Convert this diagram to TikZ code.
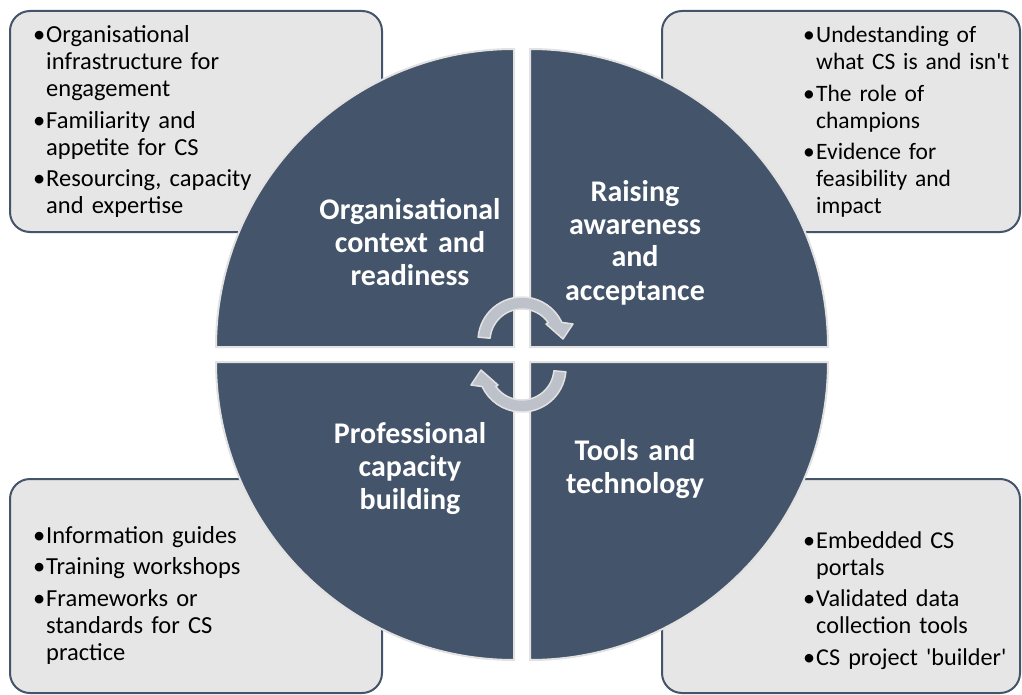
\documentclass[tikz,border=0pt]{standalone}
\usepackage{fontspec}
\setmainfont{Carlito}[Ligatures=TeXOff]
\definecolor{slate}{HTML}{44546A}
\definecolor{panel}{HTML}{E7E6E6}
\definecolor{ringarrow}{HTML}{BDC1C9}
\definecolor{rim}{HTML}{E2E2E2}
% one bullet paragraph with a hanging indent; \nl breaks a line inside it
\newcommand\bi[1]{\hangindent=13pt\hangafter=1\noindent\makebox[13pt][l]{•}#1\par}
\newcommand\nl{\newline}
\newcommand\gap{\vspace{4.5pt}}
\begin{document}
\begin{tikzpicture}[x=1pt,y=-1pt,
  panelbox/.style={draw=slate,fill=panel,line width=2pt,rounded corners=20pt},
  quadrant/.style={fill=slate,draw=rim,line width=2pt},
  cyclearrow/.style={fill=ringarrow,draw=rim,line width=1.5pt,line join=round},
  bul/.style={inner sep=0pt,text width=240pt,align=left,anchor=base west,
    font=\fontsize{24.5}{27}\selectfont},
  ttl/.style={inner sep=0pt,text width=300pt,align=center,anchor=base,text=white,
    font=\bfseries\fontsize{30}{33}\selectfont}]
\useasboundingbox (0,0) rectangle (1022,695);

% corner panels
\draw[panelbox] (10,11) rectangle (382,232);
\draw[panelbox] (662,11) rectangle (1020,232);
\draw[panelbox] (10,479) rectangle (382,693);
\draw[panelbox] (662,479) rectangle (1020,693);

% four quarter discs
\draw[quadrant] (514,347) -- (216,347) arc[start angle=180,end angle=270,radius=298] -- cycle;
\draw[quadrant] (530,347) -- (530,49) arc[start angle=270,end angle=360,radius=298] -- cycle;
\draw[quadrant] (530,362) -- (828,362) arc[start angle=0,end angle=90,radius=298] -- cycle;
\draw[quadrant] (514,362) -- (514,660) arc[start angle=90,end angle=180,radius=298] -- cycle;

% circular arrows in the middle (ring centred at 522,341; the second is turned half round)
\draw[cyclearrow] (478.17,337.17) arc[start angle=185,end angle=335,radius=44]
  -- (573,324) -- (563,339) -- (546,324)
  -- (548.21,322.65) arc[start angle=325,end angle=185,radius=32] -- cycle;
\begin{scope}[rotate around={180:(522,354.5)}]
\draw[cyclearrow] (478.17,337.17) arc[start angle=185,end angle=335,radius=44]
  -- (573,324) -- (563,339) -- (546,324)
  -- (548.21,322.65) arc[start angle=325,end angle=185,radius=32] -- cycle;
\end{scope}

% quadrant titles
\node[ttl] (q1) at (410,219) {Organisational\\context and\\readiness};
\node[ttl] (q2) at (635,201) {Raising\\awareness\\and\\acceptance};
\node[ttl] (q3) at (410,443) {Professional\\capacity\\building};
\node[ttl] (q4) at (635,460) {Tools and\\technology};

% panel lists
\node[bul] (l1) at (33,43) {\bi{Organisational\nl infrastructure for\nl engagement}\gap
  \bi{Familiarity and\nl appetite for CS}\gap\bi{Resourcing, capacity\nl and expertise}};
\node[bul,font=\fontsize{23.5}{27}\selectfont] (l2) at (803,43) {\bi{Undestanding of\nl what CS is and isn't}\gap
  \bi{The role of\nl champions}\gap\bi{Evidence for\nl feasibility and\nl impact}};
\node[bul] (l3) at (33,543) {\bi{Information guides}\gap\bi{Training workshops}\gap
  \bi{Frameworks or\nl standards for CS\nl practice}};
\node[bul,font=\fontsize{24.2}{27}\selectfont] (l4) at (803,548) {\bi{Embedded CS\nl portals}\gap
  \bi{Validated data\nl collection tools}\gap\bi{CS project 'builder'}};
\end{tikzpicture}
\end{document}
